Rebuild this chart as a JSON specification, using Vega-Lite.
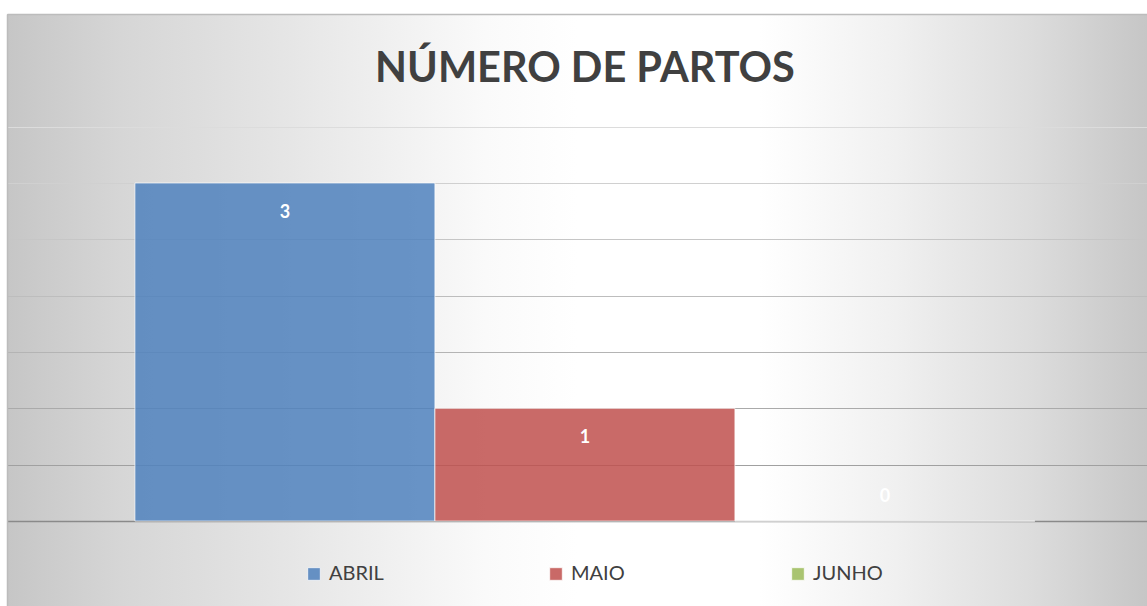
{
  "$schema": "https://vega.github.io/schema/vega-lite/v6.json",
  "width": 1140,
  "height": 592,
  "autosize": {"type": "none"},
  "padding": {"left": 7, "top": 14, "right": 0, "bottom": 0},
  "background": "white",
  "config": {
    "font": "Lato",
    "view": {
      "stroke": null,
      "fill": {
        "gradient": "linear",
        "x1": 0, "y1": 0.5, "x2": 1, "y2": 0.5,
        "stops": [
          {"offset": 0, "color": "#c6c6c6"},
          {"offset": 0.1, "color": "#d6d6d6"},
          {"offset": 0.25, "color": "#e6e6e6"},
          {"offset": 0.42, "color": "#fafafa"},
          {"offset": 0.5, "color": "#ffffff"},
          {"offset": 0.66, "color": "#ffffff"},
          {"offset": 0.78, "color": "#f0f0f0"},
          {"offset": 0.9, "color": "#dcdcdc"},
          {"offset": 1, "color": "#c6c6c6"}
        ]
      }
    }
  },
  "title": {
    "text": "NÚMERO DE PARTOS",
    "font": "Lato",
    "fontSize": 41.5,
    "fontWeight": "bold",
    "color": "#404040",
    "anchor": "middle",
    "offset": -76,
    "dx": 8
  },
  "data": {
    "values": [
      {"mes": "ABRIL", "partos": 3},
      {"mes": "MAIO", "partos": 1},
      {"mes": "JUNHO", "partos": 0}
    ]
  },
  "encoding": {
    "x": {
      "field": "mes",
      "type": "nominal",
      "sort": ["ABRIL", "MAIO", "JUNHO"],
      "scale": {"paddingInner": 0, "paddingOuter": 0.4, "align": 0.533},
      "axis": {"orient": "top", "labels": false, "ticks": false, "title": null, "grid": false, "domain": true, "domainColor": "#bcbcbc", "domainWidth": 1.5}
    }
  },
  "layer": [
    {
      "mark": {"type": "bar", "fillOpacity": 0.85, "stroke": "#ffffff", "strokeWidth": 1, "strokeOpacity": 0.7},
      "encoding": {
        "y": {
          "field": "partos",
          "type": "quantitative",
          "scale": {"domain": [-0.754, 4.5], "nice": false, "zero": false},
          "axis": {
            "values": [0, 0.5, 1, 1.5, 2, 2.5, 3, 3.5],
            "labels": false,
            "ticks": false,
            "domain": true,
            "domainColor": "#bcbcbc",
            "domainWidth": 1.5,
            "title": null,
            "grid": true,
            "gridColor": {
              "condition": [
                {"test": "datum.value >= 3.5", "value": "#dcdcdc"},
                {"test": "datum.value >= 3", "value": "#d0d0d0"},
                {"test": "datum.value >= 2.5", "value": "#c6c6c6"},
                {"test": "datum.value >= 2", "value": "#bdbdbd"},
                {"test": "datum.value >= 1.5", "value": "#b4b4b4"},
                {"test": "datum.value >= 1", "value": "#aaaaaa"},
                {"test": "datum.value >= 0.5", "value": "#a0a0a0"}
              ],
              "value": "#8a8a8a"
            },
            "gridWidth": {"condition": {"test": "datum.value === 0", "value": 1.5}, "value": 1}
          }
        },
        "y2": {"datum": 0},
        "color": {
          "field": "mes",
          "type": "nominal",
          "sort": ["ABRIL", "MAIO", "JUNHO"],
          "scale": {"domain": ["ABRIL", "MAIO", "JUNHO"], "range": ["#4F81BD", "#C0504D", "#9BBB59"]},
          "legend": {
            "title": null,
            "orient": "none",
            "direction": "horizontal",
            "legendX": 297,
            "legendY": 550,
            "symbolType": "square",
            "symbolSize": 160,
            "symbolOpacity": 0.85,
            "symbolStrokeColor": "#ffffff",
            "symbolStrokeWidth": 0.8,
            "labelFont": "Lato",
            "labelFontSize": 20,
            "labelColor": "#404040",
            "labelOffset": 5,
            "columnPadding": 147,
            "gridAlign": "all",
            "padding": 0
          }
        }
      }
    },
    {
      "transform": [{"filter": "datum.partos > 0"}],
      "mark": {"type": "text", "color": "#ffffff", "fontWeight": "bold", "fontSize": 18, "dy": 30, "baseline": "middle"},
      "encoding": {
        "y": {"field": "partos", "type": "quantitative"},
        "text": {"field": "partos", "type": "quantitative"}
      }
    },
    {
      "transform": [{"filter": "datum.partos == 0"}],
      "mark": {"type": "text", "color": "#ffffff", "fontWeight": "bold", "fontSize": 18, "dy": -24, "baseline": "middle"},
      "encoding": {
        "y": {"field": "partos", "type": "quantitative"},
        "text": {"field": "partos", "type": "quantitative"}
      }
    }
  ]
}
